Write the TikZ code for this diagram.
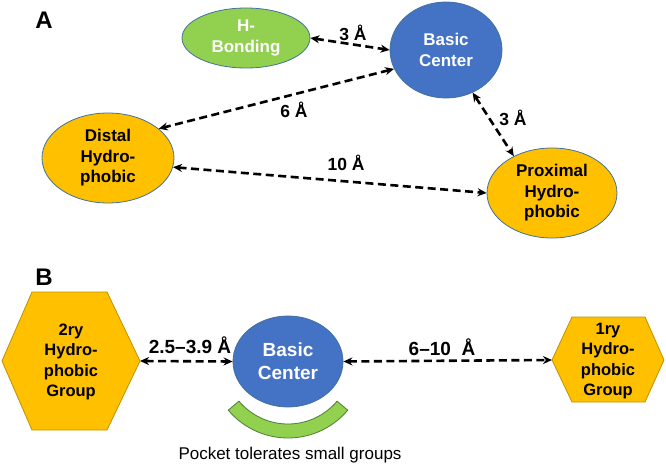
\documentclass[tikz,border=0pt]{standalone}
\usepackage{fontspec}
\setmainfont{Liberation Sans}
\usetikzlibrary{shapes.geometric,arrows.meta}
\definecolor{cblue}{HTML}{4472C4}
\definecolor{cgreen}{HTML}{92D050}
\definecolor{corange}{HTML}{FFC000}
\definecolor{cedge}{HTML}{41719C}
\definecolor{chexedge}{HTML}{BF9000}
\definecolor{cpocketedge}{HTML}{507E32}
\begin{document}
\begin{tikzpicture}[x=1pt,y=-1pt,
  blob/.style={ellipse,inner sep=0pt,draw=cedge,line width=0.8pt,align=center,
    font=\bfseries\fontsize{17}{20.5}\selectfont},
  bluebl/.style={blob,fill=cblue,text=white},
  greenbl/.style={blob,fill=cgreen,text=white},
  orangebl/.style={blob,fill=corange,text=black},
  hexshape/.style={fill=corange,draw=chexedge,line width=0.8pt},
  hextext/.style={align=center,font=\bfseries\fontsize{16.5}{20.3}\selectfont},
  dist/.style={dash pattern=on 8pt off 4.5pt,line width=2.6pt,
    {Stealth[length=9pt,width=8pt]}-{Stealth[length=9pt,width=8pt]}},
  lblA/.style={font=\bfseries\fontsize{17.5}{20}\selectfont},
  lblB/.style={font=\bfseries\fontsize{19}{22}\selectfont},
  panel/.style={font=\bfseries\fontsize{24}{26}\selectfont}
]
\useasboundingbox (0,0) rectangle (666,465);

% Panel A
\node[panel] (pA) at (44,20) {A};
\node[greenbl,minimum width=128pt,minimum height=60pt] (hb) at (246,38) {H-\\Bonding};
\node[bluebl,minimum width=112pt,minimum height=96pt] (bcA) at (446,50) {Basic\\Center};
\node[orangebl,minimum width=132pt,minimum height=90pt] (dis) at (108,158) {Distal\\Hydro-\\phobic};
\node[orangebl,minimum width=130pt,minimum height=90pt] (prox) at (552,193) {Proximal\\Hydro-\\phobic};

\draw[dist] (hb.east) -- (bcA.west);
\draw[dist] (bcA.200) -- (dis.30);
\draw[dist] (dis.-8) -- (prox.west);
\draw[dist] (bcA.-58) -- (prox.136);

\node[lblA] (l1) at (353,33) {3 Å};
\node[lblA] (l2) at (294,110) {6 Å};
\node[lblA] (l3) at (346,163) {10 Å};
\node[lblA] (l4) at (513,118) {3 Å};

% Panel B
\node[panel] (pB) at (44,277) {B};
\draw[hexshape] (2,361) -- (32,292) -- (107,292) -- (140,361) -- (107,430) -- (32,430) -- cycle;
\coordinate (h2e) at (140,361);
\node[hextext] (hex2) at (71,362) {2ry\\Hydro-\\phobic\\Group};
\draw[hexshape] (552,360) -- (572,317) -- (645,317) -- (664,360) -- (645,402) -- (572,402) -- cycle;
\coordinate (h1w) at (552,360);
\node[hextext] (hex1) at (608,361) {1ry\\Hydro-\\phobic\\Group};

\node[bluebl,minimum width=110pt,minimum height=91pt,
  font=\bfseries\fontsize{19}{23}\selectfont] (bcB) at (288,361.5) {Basic\\Center};

\draw[fill=cgreen,draw=cpocketedge,line width=0.8pt]
  plot[domain=40:140,samples=40] ({288+78*cos(\x)},{360+78*sin(\x)})
  -- plot[domain=140:40,samples=40] ({288+64*cos(\x)},{360+64*sin(\x)}) -- cycle;

\draw[dist] (h2e) -- (bcB.west);
\draw[dist] (bcB.east) -- (h1w);
\node[lblB] (l5) at (190,345) {2.5–3.9 Å};
\node[lblB] (l6) at (442,347) {6–10\ \ Å};

\node[font=\fontsize{17}{20}\selectfont] (pk) at (290,455) {Pocket tolerates small groups};
\end{tikzpicture}
\end{document}
